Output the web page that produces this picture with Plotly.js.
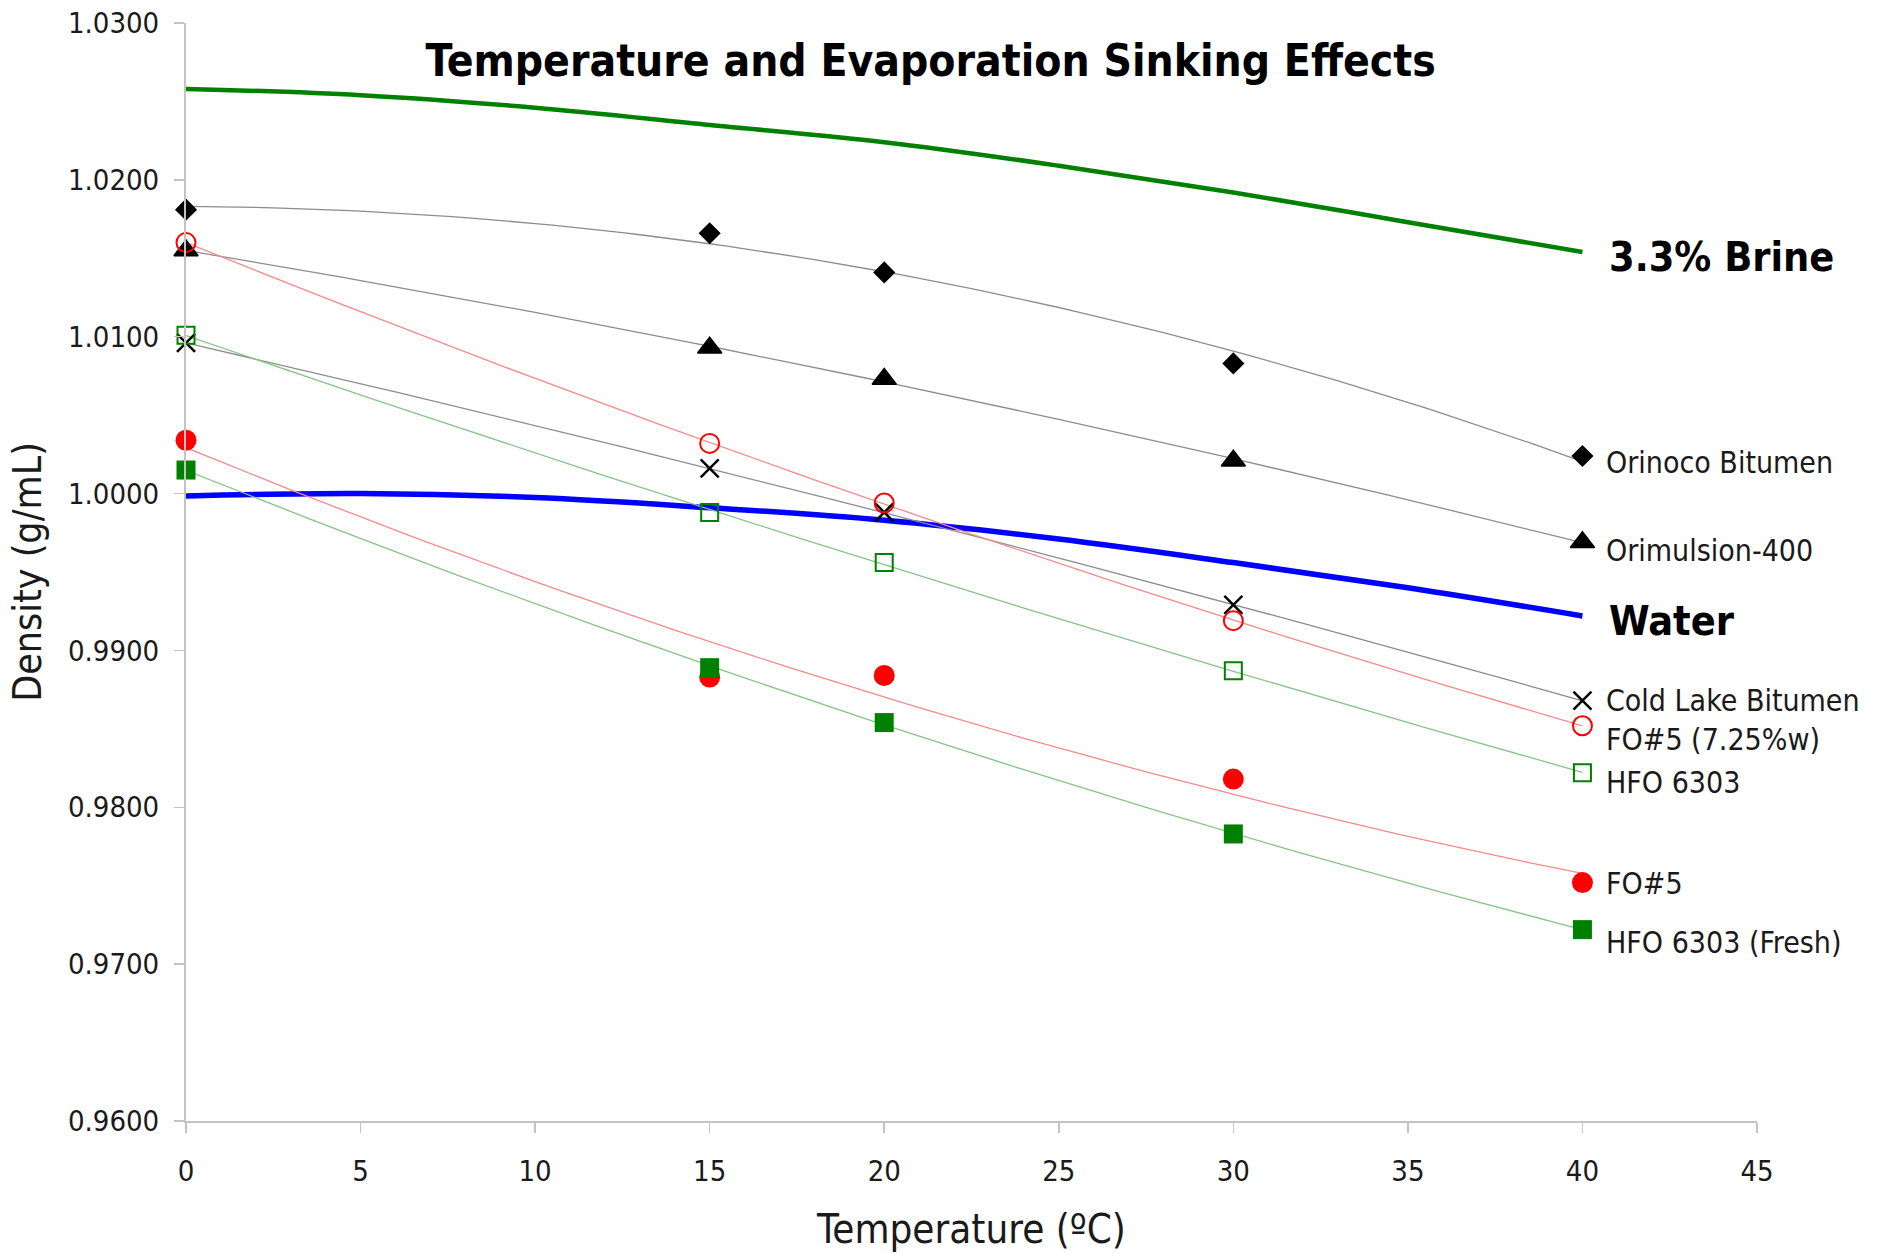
<!DOCTYPE html>
<html>
<head>
<meta charset="utf-8">
<script src="https://cdn.plot.ly/plotly-3.0.1.min.js"></script>
<style>html,body{margin:0;padding:0;background:#fff;}#chart{width:1887px;height:1254px;}</style>
</head>
<body>
<div id="chart"></div>
<script>
// ---- data ----
const temps = [0, 15, 20, 30, 40];
const orinoco    = [1.0181, 1.0166, 1.0141, 1.0083, 1.0024];
const orimulsion = [1.0155, 1.0093, 1.0073, 1.0021, 0.9969];
const coldLake   = [1.0096, 1.0016, 0.9988, 0.9929, 0.9868];
const fo5w       = [1.0160, 1.0032, 0.9994, 0.9919, 0.9852];
const hfo6303    = [1.0101, 0.9988, 0.9956, 0.9887, 0.9822];
const fo5        = [1.0034, 0.9883, 0.9884, 0.9818, 0.9752];
const hfoFresh   = [1.0015, 0.9889, 0.9854, 0.9783, 0.9722];

const refTemps = [0, 5, 10, 15, 20, 25, 30, 35, 40];
const brine = [1.0258, 1.0254, 1.0246, 1.0235, 1.0224, 1.0209, 1.0192, 1.0173, 1.0154];
const water = [0.99985, 1.0000, 0.99975, 0.9991, 0.9983, 0.9971, 0.9956, 0.9940, 0.9922];

const seriesNames = ["Orinoco Bitumen", "Orimulsion-400", "Cold Lake Bitumen", "FO#5 (7.25%w)", "HFO 6303", "FO#5", "HFO 6303 (Fresh)"];
const refNames = ["3.3% Brine", "Water"];
const xTicks = [0, 5, 10, 15, 20, 25, 30, 35, 40, 45];
const yTicks = [0.96, 0.97, 0.98, 0.99, 1.00, 1.01, 1.02, 1.03];

// ---- styles ----
const FONT = "DejaVu Sans Condensed, DejaVu Sans, sans-serif";
const seriesData = [orinoco, orimulsion, coldLake, fo5w, hfo6303, fo5, hfoFresh];
const seriesStyle = [
  {symbol: "diamond", size: 17, color: "#000000", line: {width: 0}, trend: "#8c8c8c"},
  {symbol: "triangle-up", size: 21, color: "#000000", line: {width: 1.5, color: "#000000"}, trend: "#8c8c8c"},
  {symbol: "x-thin-open", size: 18, color: "#000000", line: {width: 2.5, color: "#000000"}, trend: "#8c8c8c"},
  {symbol: "circle-open", size: 19, color: "#ff0000", line: {width: 2, color: "#ff0000"}, trend: "#f58a8a"},
  {symbol: "square-open", size: 17, color: "#008000", line: {width: 2, color: "#008000"}, trend: "#86c486"},
  {symbol: "circle", size: 21, color: "#ff0000", line: {width: 0}, trend: "#f58a8a"},
  {symbol: "square", size: 19, color: "#008000", line: {width: 0}, trend: "#86c486"}
];
// label vertical placement (layout only)
const labelY = [1.00195, 0.9964, 0.98678, 0.98429, 0.98155, 0.97517, 0.97135];
const refLabelY = [1.01508, 0.99188];

// quadratic least-squares trendline (like Excel polynomial trendline)
function polyfit2(xs, ys) {
  let n = xs.length, s = [0,0,0,0,0], t = [0,0,0];
  for (let i = 0; i < n; i++) {
    let p = 1;
    for (let k = 0; k < 5; k++) { s[k] += p; if (k < 3) t[k] += p * ys[i]; p *= xs[i]; }
  }
  const A = [[s[0], s[1], s[2], t[0]], [s[1], s[2], s[3], t[1]], [s[2], s[3], s[4], t[2]]];
  for (let c = 0; c < 3; c++) {
    for (let r = c + 1; r < 3; r++) {
      const f = A[r][c] / A[c][c];
      for (let k = c; k < 4; k++) A[r][k] -= f * A[c][k];
    }
  }
  const co = [0,0,0];
  for (let r = 2; r >= 0; r--) {
    let v = A[r][3];
    for (let k = r + 1; k < 3; k++) v -= A[r][k] * co[k];
    co[r] = v / A[r][r];
  }
  return co;
}

const traces = [];
// thick reference lines
traces.push({x: refTemps, y: brine, mode: "lines", line: {color: "#008000", width: 4.5, shape: "spline"}, name: refNames[0], hoverinfo: "x+y"});
traces.push({x: refTemps, y: water, mode: "lines", line: {color: "#0000ff", width: 5.5, shape: "spline"}, name: refNames[1], hoverinfo: "x+y"});

// trendlines
seriesData.forEach((ys, i) => {
  const co = polyfit2(temps, ys);
  const tx = [], ty = [];
  for (let x = temps[0]; x <= temps[temps.length - 1] + 1e-9; x += 0.5) {
    tx.push(x); ty.push(co[0] + co[1] * x + co[2] * x * x);
  }
  traces.push({x: tx, y: ty, mode: "lines", line: {color: seriesStyle[i].trend, width: 1.3}, hoverinfo: "skip", name: seriesNames[i] + " trend"});
});
// markers
seriesData.forEach((ys, i) => {
  const st = seriesStyle[i];
  traces.push({x: temps, y: ys, mode: "markers", name: seriesNames[i], cliponaxis: false,
    marker: {symbol: st.symbol, size: st.size, color: st.color, line: st.line}});
});

const annotations = [];
seriesNames.forEach((nm, i) => {
  annotations.push({x: 40.63, y: labelY[i], xref: "x", yref: "y", text: nm, showarrow: false,
    xanchor: "left", yanchor: "middle", font: {family: FONT, size: 30, color: "#1a1a1a"}});
});
refNames.forEach((nm, i) => {
  annotations.push({x: 40.7, y: refLabelY[i], xref: "x", yref: "y", text: "<b>" + nm + "</b>", showarrow: false,
    xanchor: "left", yanchor: "middle", font: {family: FONT, size: 41, color: "#000000"}});
});

const layout = {
  width: 1887, height: 1254,
  margin: {l: 186, r: 130, t: 23, b: 133, pad: 0},
  paper_bgcolor: "#ffffff", plot_bgcolor: "#ffffff",
  showlegend: false,
  font: {family: FONT, color: "#1a1a1a"},
  title: {text: "<b>Temperature and Evaporation Sinking Effects</b>", x: 0.474, xref: "paper", xanchor: "center",
    y: 0.952, yref: "container", yanchor: "middle", font: {family: FONT, size: 44, color: "#000000"}},
  xaxis: {range: [0, 45], tickmode: "array", tickvals: xTicks, ticktext: xTicks.map(String),
    showline: true, linecolor: "#c3c3c3", linewidth: 2, ticks: "outside", ticklen: 10, tickwidth: 1.5, tickcolor: "#c3c3c3",
    showgrid: false, zeroline: false, tickfont: {family: FONT, size: 29, color: "#1a1a1a"}, ticklabelstandoff: 13,
    title: {text: "Temperature (ºC)", font: {family: FONT, size: 40, color: "#1a1a1a"}, standoff: 28}},
  yaxis: {range: [0.96, 1.03], tickmode: "array", tickvals: yTicks, ticktext: yTicks.map(v => v.toFixed(4)),
    showline: true, linecolor: "#c3c3c3", linewidth: 2, ticks: "outside", ticklen: 10, tickwidth: 1.5, tickcolor: "#c3c3c3",
    showgrid: false, zeroline: false, tickfont: {family: FONT, size: 29, color: "#1a1a1a"}, ticklabelstandoff: 9,
    title: {text: "Density (g/mL)", font: {family: FONT, size: 39, color: "#1a1a1a"}, standoff: 14}},
  annotations: annotations
};

Plotly.newPlot("chart", traces, layout, {displayModeBar: false, staticPlot: true});
</script>
</body>
</html>
